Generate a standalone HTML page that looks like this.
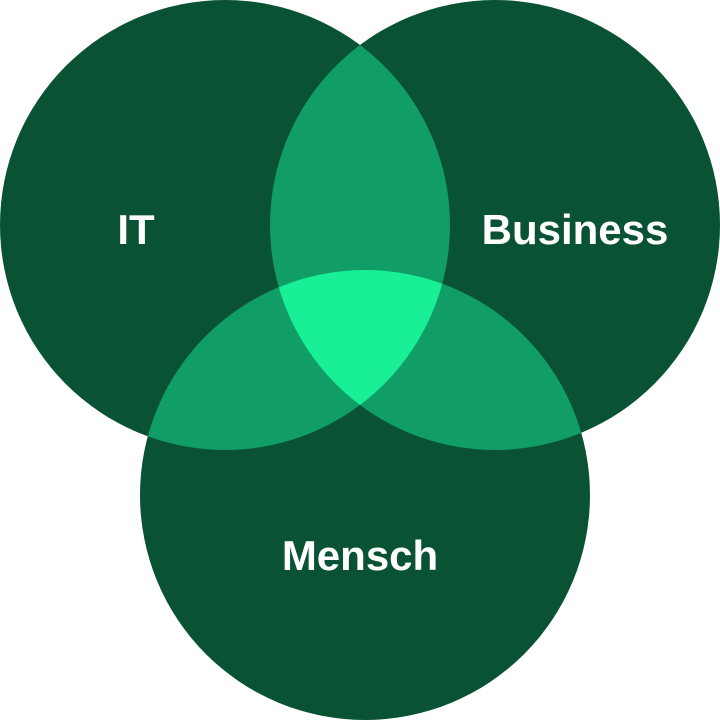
<!DOCTYPE html>
<html><head><style>
html,body{margin:0;padding:0;background:#fff;}
svg{display:block}
text{font-family:"Liberation Sans",sans-serif;font-weight:bold;font-size:42px;fill:#fff;text-anchor:middle;}
</style></head><body>
<svg width="720" height="720" viewBox="0 0 720 720">
<defs>
<clipPath id="cL"><circle cx="225" cy="225" r="225"/></clipPath>
<clipPath id="cR"><circle cx="495" cy="225" r="225"/></clipPath>
<clipPath id="cB"><circle cx="365" cy="495" r="225"/></clipPath>
</defs>
<circle cx="225" cy="225" r="225" fill="#095234"/>
<circle cx="495" cy="225" r="225" fill="#095234"/>
<circle cx="365" cy="495" r="225" fill="#095234"/>
<circle cx="495" cy="225" r="225" fill="#119e66" clip-path="url(#cL)"/>
<circle cx="365" cy="495" r="225" fill="#119e66" clip-path="url(#cL)"/>
<circle cx="365" cy="495" r="225" fill="#119e66" clip-path="url(#cR)"/>
<g clip-path="url(#cL)"><circle cx="365" cy="495" r="225" fill="#18ef96" clip-path="url(#cR)"/></g>
<text x="136" y="244">IT</text>
<text x="575" y="244">Business</text>
<text x="360" y="570">Mensch</text>
</svg>
</body></html>
